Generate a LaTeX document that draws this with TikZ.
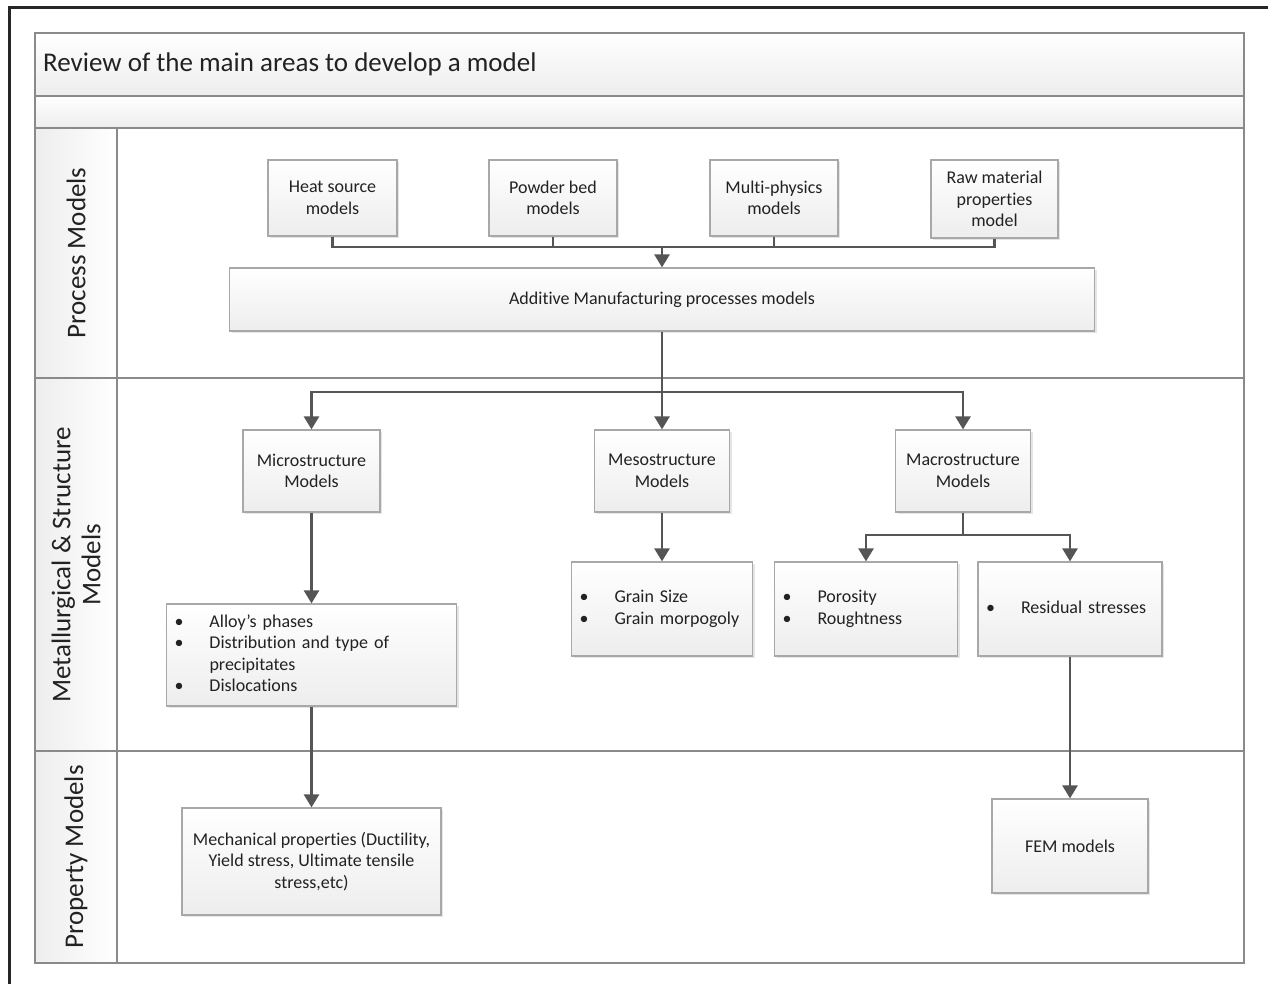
\documentclass[tikz,border=0pt]{standalone}
\usepackage{fontspec}
\setmainfont[Ligatures=NoCommon]{Carlito}
\usetikzlibrary{arrows.meta,shadows}
\definecolor{lanegray}{HTML}{8A8A8A}
\definecolor{boxedge}{HTML}{A8A8A8}
\definecolor{linegray}{HTML}{555555}
\definecolor{txt}{HTML}{222222}
\tikzset{
  boxnode/.style={draw=boxedge, line width=1.2pt, top color=white, bottom color=black!7,
    drop shadow={shadow xshift=2pt, shadow yshift=-2pt, opacity=0.25, fill=black!40},
    align=center, inner sep=0pt, text=txt,
    font=\fontsize{18}{21.5}\selectfont},
  listnode/.style={boxnode, align=left, inner xsep=8pt},
  conn/.style={draw=linegray, line width=2.6pt},
  arr/.style={conn, -{Triangle[width=15pt,length=13pt]}},
  lanetext/.style={rotate=90, text=txt, font=\fontsize{27}{30}\selectfont, align=center},
  frameline/.style={draw=lanegray, line width=1.8pt}
}
\newcommand{\bl}{\textbullet}
\newcommand{\blist}[1]{\renewcommand{\arraystretch}{1}\begin{tabular}{@{}p{35pt}@{}l@{}}#1\end{tabular}}
\begin{document}
\begin{tikzpicture}[x=1pt,y=-1pt]
\useasboundingbox (0,0) rectangle (1268,984);
\fill[white] (0,0) rectangle (1268,984);
% outer cropped frame
\draw[line width=3pt, black!85] (9,984) -- (9,8) -- (1268,8);
% bands
\shade[top color=white, bottom color=black!7] (35,33) rectangle (1244,96);
\shade[top color=white, bottom color=black!7] (35,96) rectangle (1244,128);
\shade[left color=black!7, right color=white] (35,128) rectangle (117,963);
\draw[frameline] (35,33) rectangle (1244,963);
\draw[frameline] (35,96) -- (1244,96);
\draw[frameline] (35,128) -- (1244,128);
\draw[frameline] (35,378) -- (1244,378);
\draw[frameline] (35,751) -- (1244,751);
\draw[frameline] (117,128) -- (117,963);
\node[anchor=west, text=txt, font=\fontsize{27}{30}\selectfont, inner sep=0pt] (title) at (43,64) {Review of the main areas to develop a model};
\node[lanetext] (lp) at (76,253) {Process Models};
\node[lanetext] (lm) at (76,565) {Metallurgical \& Structure\\Models};
\node[lanetext] (lpr) at (76,857) {Property Models};
% boxes
\node[boxnode, minimum width=129pt, minimum height=76pt] (heat) at (332.5,198) {Heat source\\models};
\node[boxnode, minimum width=128pt, minimum height=76pt] (powder) at (553,198) {Powder bed\\models};
\node[boxnode, minimum width=128pt, minimum height=76pt] (multi) at (774,198) {Multi-physics\\models};
\node[boxnode, minimum width=127pt, minimum height=78pt] (raw) at (994.5,199) {Raw material\\properties\\model};
\node[boxnode, minimum width=865pt, minimum height=63pt] (am) at (662,299.5) {Additive Manufacturing processes models};
\node[boxnode, minimum width=137pt, minimum height=82pt] (micro) at (311.5,471) {Microstructure\\Models};
\node[boxnode, minimum width=135pt, minimum height=82pt] (meso) at (662,471) {Mesostructure\\Models};
\node[boxnode, minimum width=135pt, minimum height=82pt] (macro) at (963,471) {Macrostructure\\Models};
\node[listnode, minimum width=290pt, minimum height=102pt, text width=274pt] (list) at (311.5,655)
  {\blist{\bl & Alloy’s phases\\ \bl & Distribution and type of\\ & precipitates\\ \bl & Dislocations}};
\node[listnode, minimum width=181pt, minimum height=94pt, text width=165pt] (grain) at (662,609)
  {\blist{\bl & Grain Size\\ \bl & Grain morpogoly}};
\node[listnode, minimum width=183pt, minimum height=94pt, text width=167pt] (poro) at (866,609)
  {\blist{\bl & Porosity\\ \bl & Roughtness}};
\node[listnode, minimum width=184pt, minimum height=94pt, text width=168pt] (resid) at (1070,609)
  {\blist{\bl & Residual stresses}};
\node[boxnode, minimum width=259pt, minimum height=107pt] (mech) at (311.5,861.5) {Mechanical properties (Ductility,\\Yield stress, Ultimate tensile\\stress,etc)};
\node[boxnode, minimum width=156pt, minimum height=94pt] (fem) at (1070,846) {FEM models};
% connectors
\coordinate (j1) at (662,247);
\coordinate (j2) at (662,392);
\coordinate (j3) at (963,535);
\draw[conn] (heat.south) |- (j1);
\draw[conn] (raw.south) |- (j1);
\draw[conn] (powder.south) -- (powder.south |- j1);
\draw[conn] (multi.south) -- (multi.south |- j1);
\draw[arr] (j1) -- (am.north);
\draw[arr] (am.south) -- (meso.north);
\draw[arr] (j2) -| (micro.north);
\draw[arr] (j2) -| (macro.north);
\draw[conn] (macro.south) -- (j3);
\draw[arr] (j3) -| (poro.north);
\draw[arr] (j3) -| (resid.north);
\draw[arr] (meso.south) -- (grain.north);
\draw[arr] (micro.south) -- (list.north);
\draw[arr] (list.south) -- (mech.north);
\draw[arr] (resid.south) -- (fem.north);
\end{tikzpicture}
\end{document}
